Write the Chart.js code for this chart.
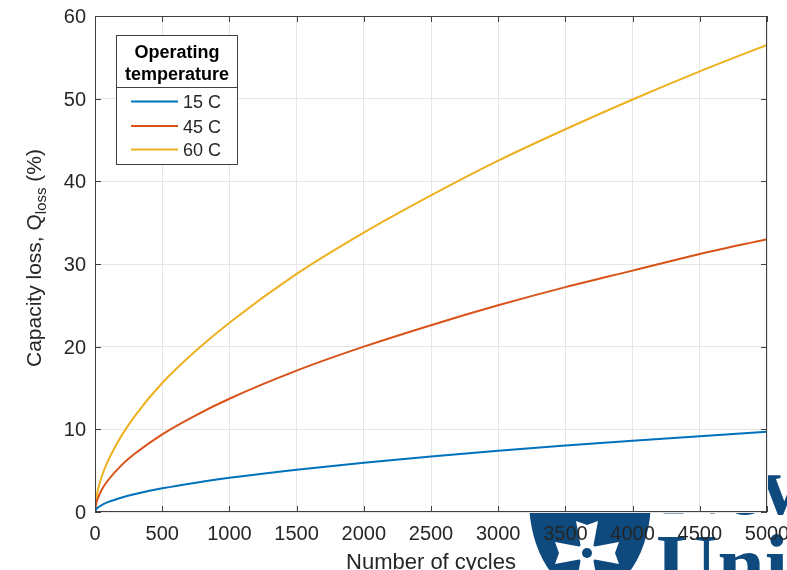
<!DOCTYPE html>
<html>
<head>
<meta charset="utf-8">
<script src="https://cdn.jsdelivr.net/npm/chart.js@4.4.1/dist/chart.umd.min.js"></script>
<style>
  html, body { margin: 0; padding: 0; background: #fff; overflow: hidden; }
  #wrap { position: relative; width: 787px; height: 570px; }
</style>
</head>
<body>
<div id="wrap"><canvas id="capChart" width="787" height="570"></canvas></div>
<script>
// ── data ──
var cycles = [0, 10, 25, 50, 100, 200, 300, 500, 750, 1000, 1500, 2000, 2500, 3000, 3500, 4000, 4500, 5000];
var loss15 = [0, 0.36, 0.58, 0.84, 1.22, 1.76, 2.18, 2.86, 3.55, 4.13, 5.12, 5.97, 6.72, 7.40, 8.03, 8.62, 9.17, 9.70];
var loss45 = [0, 1.1, 1.8, 2.7, 3.9, 5.7, 7.1, 9.4, 11.7, 13.7, 17.1, 20.0, 22.6, 25.0, 27.2, 29.2, 31.2, 33.0];
var loss60 = [0, 1.7, 2.9, 4.3, 6.3, 9.3, 11.7, 15.6, 19.5, 22.9, 28.8, 33.8, 38.3, 42.5, 46.3, 49.9, 53.3, 56.5];
var seriesLabels = ['15 C', '45 C', '60 C'];
var seriesColors = ['#0072BD', '#D95319', '#EDB120'];
var xTicks = [0, 500, 1000, 1500, 2000, 2500, 3000, 3500, 4000, 4500, 5000];
var yTicks = [0, 10, 20, 30, 40, 50, 60];
var legendTitle = ['Operating', 'temperature'];

var FONT = '"Liberation Sans", Arial, Helvetica, sans-serif';
var TXT = '#262626';
var AXIS = '#404040';

function toPoints(vals) {
  return cycles.map(function(c, i) { return { x: c, y: vals[i] }; });
}

// ── background + logo behind the axes ──
var backdrop = {
  id: 'backdrop',
  beforeDraw: function(chart) {
    var ctx = chart.ctx;
    var a = chart.chartArea;
    ctx.save();
    ctx.fillStyle = '#fff';
    ctx.fillRect(0, 0, chart.width, chart.height);

    // university logo (partly hidden)
    var blue = '#0e4a7e';
    ctx.fillStyle = blue;
    ctx.beginPath();
    ctx.ellipse(590, 500, 61, 94, 0, 0, Math.PI * 2);
    ctx.fill();
    // cross
    ctx.fillStyle = '#fff';
    var cx = 587, cy = 553;
    [[0, -1], [1, 0], [0, 1], [-1, 0]].forEach(function(d) {
      var px = -d[1], py = d[0];
      ctx.beginPath();
      ctx.moveTo(cx + px * 5, cy + py * 5);
      ctx.lineTo(cx + d[0] * 32 + px * 11, cy + d[1] * 32 + py * 11);
      ctx.lineTo(cx + d[0] * 28, cy + d[1] * 28);
      ctx.lineTo(cx + d[0] * 32 - px * 11, cy + d[1] * 32 - py * 11);
      ctx.lineTo(cx - px * 5, cy - py * 5);
      ctx.closePath();
      ctx.fill();
    });
    ctx.beginPath();
    ctx.arc(cx, cy, 10, 0, Math.PI * 2);
    ctx.fill();
    ctx.fillStyle = blue;
    ctx.beginPath();
    ctx.arc(cx, cy, 5, 0, Math.PI * 2);
    ctx.fill();
    ctx.font = 'bold 85px "Liberation Serif", "DejaVu Serif", serif';
    ctx.textAlign = 'left';
    ctx.textBaseline = 'alphabetic';
    ctx.fillText('Newcastle', 662, 514);
    ctx.fillText('University', 656, 593);

    ctx.fillStyle = '#fff';
    ctx.fillRect(a.left, a.top, a.right - a.left, a.bottom - a.top);
    ctx.restore();
  }
};

// ── box, inward ticks, labels, legend ──
var decorations = {
  id: 'decorations',
  afterDraw: function(chart) {
    var ctx = chart.ctx;
    var a = chart.chartArea;
    var xs = chart.scales.x, ys = chart.scales.y;
    var tl = 6;
    ctx.save();

    // box
    ctx.strokeStyle = AXIS;
    ctx.lineWidth = 1;
    ctx.strokeRect(Math.round(a.left) + 0.5, Math.round(a.top) + 0.5,
      Math.round(a.right - a.left) - 1, Math.round(a.bottom - a.top) - 1);

    // inward ticks
    ctx.beginPath();
    xTicks.forEach(function(v) {
      var x = Math.round(xs.getPixelForValue(v)) + 0.5;
      ctx.moveTo(x, a.bottom); ctx.lineTo(x, a.bottom - tl);
      ctx.moveTo(x, a.top); ctx.lineTo(x, a.top + tl);
    });
    yTicks.forEach(function(v) {
      var y = Math.round(ys.getPixelForValue(v)) + 0.5;
      ctx.moveTo(a.left, y); ctx.lineTo(a.left + tl, y);
      ctx.moveTo(a.right, y); ctx.lineTo(a.right - tl, y);
    });
    ctx.stroke();

    // tick labels
    ctx.fillStyle = TXT;
    ctx.font = '20px ' + FONT;
    ctx.textBaseline = 'alphabetic';
    ctx.textAlign = 'center';
    xTicks.forEach(function(v) {
      ctx.fillText(String(v), xs.getPixelForValue(v), a.bottom + 27.5);
    });
    ctx.textAlign = 'right';
    yTicks.forEach(function(v) {
      ctx.fillText(String(v), a.left - 9, ys.getPixelForValue(v) + 7);
    });

    // x title
    ctx.font = '22px ' + FONT;
    ctx.textAlign = 'center';
    ctx.fillText('Number of cycles', (a.left + a.right) / 2, 569);

    // y title with subscript
    var mainTxt = 'Capacity loss, Q', subTxt = 'loss', tailTxt = ' (%)';
    ctx.font = '21px ' + FONT;
    var w1 = ctx.measureText(mainTxt).width, w3 = ctx.measureText(tailTxt).width;
    ctx.font = '15px ' + FONT;
    var w2 = ctx.measureText(subTxt).width;
    var total = w1 + w2 + w3;
    ctx.translate(41, 258);
    ctx.rotate(-Math.PI / 2);
    ctx.textAlign = 'left';
    var sx = -total / 2;
    ctx.font = '21px ' + FONT;
    ctx.fillText(mainTxt, sx, 0);
    ctx.font = '15px ' + FONT;
    ctx.fillText(subTxt, sx + w1, 5);
    ctx.font = '21px ' + FONT;
    ctx.fillText(tailTxt, sx + w1 + w2, 0);
    ctx.setTransform(1, 0, 0, 1, 0, 0);

    // legend
    var L = 116.5, T = 35.5, R = 237.5, B = 164.5;
    ctx.fillStyle = '#fff';
    ctx.fillRect(L, T, R - L, B - T);
    ctx.strokeStyle = AXIS;
    ctx.strokeRect(L, T, R - L, B - T);
    ctx.beginPath();
    ctx.moveTo(L, 87.5); ctx.lineTo(R, 87.5);
    ctx.stroke();
    ctx.fillStyle = '#000';
    ctx.font = 'bold 18px ' + FONT;
    ctx.textAlign = 'center';
    ctx.fillText(legendTitle[0], (L + R) / 2, 57.5);
    ctx.fillText(legendTitle[1], (L + R) / 2, 79.5);
    var rowY = [101.5, 126, 149.5];
    ctx.font = '18px ' + FONT;
    ctx.textAlign = 'left';
    seriesLabels.forEach(function(lbl, i) {
      ctx.strokeStyle = seriesColors[i];
      ctx.lineWidth = 2;
      ctx.beginPath();
      ctx.moveTo(131, rowY[i]); ctx.lineTo(178, rowY[i]);
      ctx.stroke();
      ctx.fillStyle = TXT;
      ctx.fillText(lbl, 183, rowY[i] + 6.5);
    });
    ctx.restore();
  }
};

function makeDataset(i, vals) {
  return {
    label: seriesLabels[i],
    data: toPoints(vals),
    borderColor: seriesColors[i],
    backgroundColor: seriesColors[i],
    borderWidth: 2,
    pointRadius: 0,
    fill: false,
    cubicInterpolationMode: 'monotone'
  };
}

new Chart(document.getElementById('capChart').getContext('2d'), {
  type: 'line',
  data: {
    datasets: [makeDataset(0, loss15), makeDataset(1, loss45), makeDataset(2, loss60)]
  },
  options: {
    responsive: false,
    animation: false,
    devicePixelRatio: 1,
    layout: { padding: { left: 95, right: 20, top: 16, bottom: 58 } },
    plugins: { legend: { display: false }, tooltip: { enabled: false } },
    scales: {
      x: {
        type: 'linear', min: 0, max: 5000,
        ticks: { stepSize: 500, display: false },
        grid: { color: '#e6e6e6', drawTicks: false },
        border: { display: false }
      },
      y: {
        type: 'linear', min: 0, max: 60,
        ticks: { stepSize: 10, display: false },
        grid: { color: '#e6e6e6', drawTicks: false },
        border: { display: false }
      }
    }
  },
  plugins: [backdrop, decorations]
});
</script>
</body>
</html>
